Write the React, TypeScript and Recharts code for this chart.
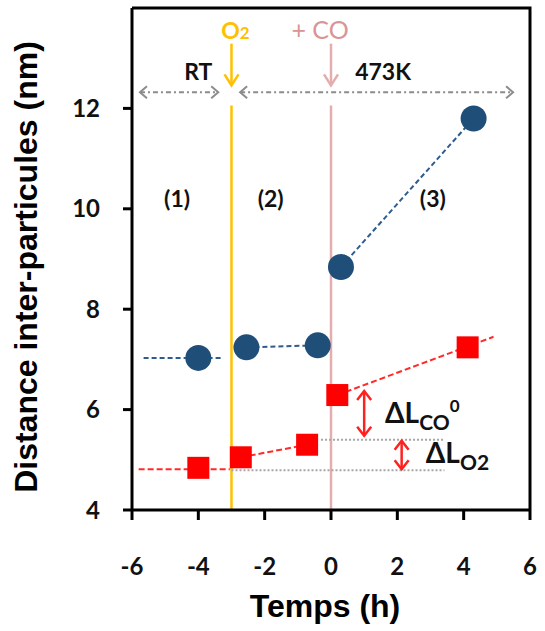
import {
  ComposedChart,
  Label,
  ReferenceLine,
  Scatter,
  XAxis,
  YAxis,
} from 'recharts'

// markers
const blueX = [-4, -2.55, -0.4, 0.3, 4.3]
const blueY = [7.03, 7.24, 7.28, 8.84, 11.8]
const redX = [-4, -2.72, -0.72, 0.19, 4.12]
const redY = [4.84, 5.05, 5.3, 6.29, 7.24]

const xTicks = [-6, -4, -2, 0, 2, 4, 6]
const yTicks = [4, 6, 8, 10, 12]
const xDomain = [-6, 6]
const yDomain = [4, 14]

const CHART_W = 545
const CHART_H = 631
const MARGIN = { top: 8, right: 15, bottom: 0, left: 0 }

type Pt = { x: number; y: number }
type Seg = [Pt, Pt]

// dashed trend segments
const blueSegments: Seg[] = [
  [{ x: -5.65, y: 7.03 }, { x: -3.3, y: 7.03 }],
  [{ x: -2.55, y: 7.24 }, { x: -0.4, y: 7.28 }],
  [{ x: 0.3, y: 8.84 }, { x: 4.3, y: 11.8 }],
]
const redSegments: Seg[] = [
  [{ x: -5.8, y: 4.81 }, { x: -3.05, y: 4.81 }],
  [{ x: -2.72, y: 5.05 }, { x: -0.72, y: 5.3 }],
  [{ x: 0.19, y: 6.29 }, { x: 4.9, y: 7.45 }],
]
// dotted reference levels
const grayLevels: Seg[] = [
  [{ x: -0.3, y: 5.4 }, { x: 3.42, y: 5.4 }],
  [{ x: -3, y: 4.79 }, { x: 3.42, y: 4.79 }],
]
// period arrows (RT / 473K)
const periodArrows: Seg[] = [
  [{ x: -5.76, y: 12.32 }, { x: -3.4, y: 12.32 }],
  [{ x: -2.74, y: 12.32 }, { x: 5.49, y: 12.32 }],
]
// red double arrows for the deltas
const deltaArrows: Seg[] = [
  [{ x: 1.0, y: 6.37 }, { x: 1.0, y: 5.48 }],
  [{ x: 2.13, y: 5.38 }, { x: 2.13, y: 4.81 }],
]

const gasTimes = [-3, 0]
const gasColors = ['#FFC000', '#E3AEAD']

const labels = [
  { x: -4.64, y: 10.03, kind: 'plain', text: '(1)' },
  { x: -1.82, y: 10.03, kind: 'plain', text: '(2)' },
  { x: 3.07, y: 10.03, kind: 'plain', text: '(3)' },
  { x: -4.0, y: 12.56, kind: 'plain', text: 'RT' },
  { x: 1.57, y: 12.56, kind: 'plain', text: '473K' },
  { x: -2.88, y: 13.39, kind: 'o2', text: 'O' },
  { x: -0.33, y: 13.39, kind: 'co', text: '+CO' },
  { x: 1.63, y: 5.74, kind: 'dco', text: 'ΔL' },
  { x: 2.86, y: 4.93, kind: 'do2', text: 'ΔL' },
]

const blueData = blueX.map((x, i) => ({ x, y: blueY[i] }))
const redData = redX.map((x, i) => ({ x, y: redY[i] }))

const tickFont = { fontFamily: 'Lato', fontWeight: 700, fontSize: 24, fill: '#111' }
const titleFont = { fontFamily: 'Liberation Sans', fontWeight: 700, fontSize: 32, fill: '#000' }
const frameLine = { stroke: '#000', strokeWidth: 3 }

function head(x: number, y: number, ux: number, uy: number, len: number, spread: number) {
  // ux,uy points from tip back along the shaft
  const px = -uy
  const py = ux
  return `M${x + ux * len + px * spread},${y + uy * len + py * spread} L${x},${y} L${
    x + ux * len - px * spread
  },${y + uy * len - py * spread}`
}

function arrowShape(
  color: string,
  width: number,
  dash: string | undefined,
  ends: 'end' | 'both',
  len: number,
  spread: number,
) {
  return (props: any) => {
    const { x1, y1, x2, y2 } = props
    const d = Math.hypot(x2 - x1, y2 - y1) || 1
    const ux = (x2 - x1) / d
    const uy = (y2 - y1) / d
    return (
      <g>
        <line x1={x1} y1={y1} x2={x2} y2={y2} stroke={color} strokeWidth={width} strokeDasharray={dash} />
        <path d={head(x2, y2, -ux, -uy, len, spread)} stroke={color} strokeWidth={width} fill="none" />
        {ends === 'both' && (
          <path d={head(x1, y1, ux, uy, len, spread)} stroke={color} strokeWidth={width} fill="none" />
        )}
      </g>
    )
  }
}

function Circle(props: any) {
  return <circle cx={props.cx} cy={props.cy} r={13} fill="#1F4E79" />
}

function Square(props: any) {
  return <rect x={props.cx - 11} y={props.cy - 11} width={22} height={22} fill="#FF0000" />
}

function Annotation(props: any) {
  const { cx, cy, payload } = props
  const base = { fontFamily: 'Lato', fontWeight: 700, fill: '#111' }
  if (payload.kind === 'plain') {
    return (
      <text x={cx} y={cy} textAnchor="middle" fontSize={23} {...base}>
        {payload.text}
      </text>
    )
  }
  if (payload.kind === 'o2') {
    return (
      <text x={cx} y={cy} textAnchor="middle" fontSize={23} fontFamily="Lato" fontWeight={700} fill="#FFC000">
        O<tspan fontSize={17}>2</tspan>
      </text>
    )
  }
  if (payload.kind === 'co') {
    return (
      <text x={cx} y={cy} textAnchor="middle" fontSize={25} fontFamily="Lato" fontWeight={400} fill="#D99594">
        + CO
      </text>
    )
  }
  if (payload.kind === 'dco') {
    return (
      <text x={cx} y={cy} fontSize={28} {...base}>
        ΔL
        <tspan dy={7} fontSize={21}>CO</tspan>
        <tspan dy={-18} fontSize={17}>0</tspan>
      </text>
    )
  }
  return (
    <text x={cx} y={cy} fontSize={28} {...base}>
      ΔL
      <tspan dy={7} fontSize={21}>O2</tspan>
    </text>
  )
}

function segLines(segs: Seg[], color: string, dash: string | undefined, width: number, prefix: string) {
  return segs.map((s, i) => (
    <ReferenceLine
      key={`${prefix}-${i}`}
      segment={[s[0], s[1]]}
      stroke={color}
      strokeWidth={width}
      strokeDasharray={dash}
      ifOverflow="visible"
    />
  ))
}

// y title plus the top/right edges of the box, drawn from the y-axis box
function YTitleAndFrame({ viewBox }: any) {
  const cy = viewBox.y + viewBox.height / 2 + 8
  const left = viewBox.x + viewBox.width
  const top = viewBox.y
  const bottom = viewBox.y + viewBox.height
  const right = CHART_W - MARGIN.right
  return (
    <g>
      <path d={`M${left},${top} H${right} V${bottom}`} stroke="#000" strokeWidth={3} fill="none" />
      <text x={37} y={cy} textAnchor="middle" transform={`rotate(-90, 37, ${cy})`} {...titleFont}>
        Distance inter-particules (nm)
      </text>
    </g>
  )
}

export default function App() {
  return (
    <div style={{ position: 'absolute', left: 0, top: 0, background: '#fff' }}>
      <ComposedChart width={CHART_W} height={CHART_H} margin={MARGIN}>
        <XAxis
          type="number"
          dataKey="x"
          domain={xDomain}
          ticks={xTicks}
          interval={0}
          height={121}
          tickSize={10}
          tickMargin={38}
          tick={tickFont}
          axisLine={frameLine}
          tickLine={frameLine}
        >
          <Label
            content={({ viewBox }: any) => (
              <text x={viewBox.x + viewBox.width / 2 - 6} y={617} textAnchor="middle" {...titleFont}>
                Temps (h)
              </text>
            )}
          />
        </XAxis>
        <YAxis
          type="number"
          dataKey="y"
          domain={yDomain}
          ticks={yTicks}
          interval={0}
          width={132}
          tickSize={9}
          tickMargin={23}
          tick={tickFont}
          axisLine={frameLine}
          tickLine={frameLine}
        >
          <Label content={YTitleAndFrame} />
        </YAxis>

        {/* gas introduction */}
        {gasTimes.map((t, i) => (
          <ReferenceLine
            key={`gas-${t}`}
            segment={[
              { x: t, y: 4 },
              { x: t, y: 12.06 },
            ]}
            stroke={gasColors[i]}
            strokeWidth={2.5}
          />
        ))}
        {gasTimes.map((t, i) => (
          <ReferenceLine
            key={`gasarrow-${t}`}
            segment={[
              { x: t, y: 13.29 },
              { x: t, y: 12.46 },
            ]}
            shape={arrowShape(gasColors[i], 2.5, undefined, 'end', 11, 7)}
          />
        ))}

        {periodArrows.map((s, i) => (
          <ReferenceLine
            key={`period-${i}`}
            segment={[s[0], s[1]]}
            shape={arrowShape('#8C8C8C', 2, '5 3 2 3', 'both', 7, 6)}
          />
        ))}

        {segLines(grayLevels, '#A6A6A6', '2 2', 2, 'gray')}
        {segLines(blueSegments, '#2E5C8F', '5 3', 2, 'blue')}
        {segLines(redSegments, '#FF2A2A', '6 3', 2, 'red')}

        {deltaArrows.map((s, i) => (
          <ReferenceLine
            key={`delta-${i}`}
            segment={[s[0], s[1]]}
            shape={arrowShape('#FF2020', 2.5, undefined, 'both', 9, 7)}
          />
        ))}

        <Scatter data={blueData} shape={Circle} isAnimationActive={false} />
        <Scatter data={redData} shape={Square} isAnimationActive={false} />
        <Scatter data={labels} shape={Annotation} isAnimationActive={false} />
      </ComposedChart>
    </div>
  )
}
